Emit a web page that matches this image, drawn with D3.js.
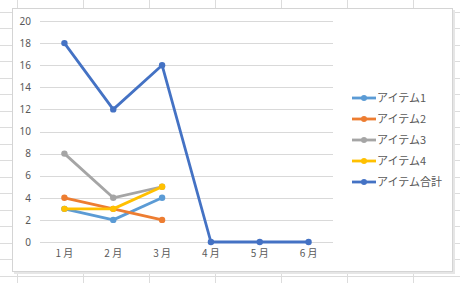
<!DOCTYPE html>
<html>
<head>
  <meta charset="utf-8">
  <script src="https://d3js.org/d3.v7.min.js"></script>
  <style>
    body { margin: 0; background: #fff; }
    svg text { font-family: "Noto Sans CJK JP", "Noto Sans", sans-serif; fill: #595959; }
  </style>
</head>
<body>
  <script>
    const months = ["1月", "2月", "3月", "4月", "5月", "6月"];
    const seriesNames = ["アイテム1", "アイテム2", "アイテム3", "アイテム4", "アイテム合計"];
    const item1 = [3, 2, 4];
    const item2 = [4, 3, 2];
    const item3 = [8, 4, 5];
    const item4 = [3, 3, 5];
    const itemTotal = [18, 12, 16, 0, 0, 0];
    const yTicks = [0, 2, 4, 6, 8, 10, 12, 14, 16, 18, 20];
    const colors = ["#5b9bd5", "#ed7d31", "#a5a5a5", "#ffc000", "#4472c4"];

    const width = 460, height = 283;
    const svg = d3.select("body").append("svg")
      .attr("width", width).attr("height", height);

    // spreadsheet cells behind the chart
    const cells = svg.append("g").attr("stroke", "#dcdcdc").attr("stroke-width", 1);
    for (let x = 17; x < width; x += 66) {
      cells.append("line").attr("x1", x + 0.5).attr("x2", x + 0.5).attr("y1", 0).attr("y2", height);
    }
    for (let y = 11.5; y < height; y += 16.5) {
      cells.append("line").attr("x1", 0).attr("x2", width).attr("y1", Math.round(y) + 0.5).attr("y2", Math.round(y) + 0.5);
    }

    // chart area
    svg.append("rect")
      .attr("x", 14).attr("y", 10).attr("width", 441).attr("height", 264)
      .attr("fill", "#e6e6e6");
    svg.append("rect")
      .attr("x", 12.5).attr("y", 8.5).attr("width", 440).attr("height", 263)
      .attr("fill", "#fff").attr("stroke", "#d4d4d4");

    const x = d3.scaleBand().domain(months).range([40, 333]);
    const y = d3.scaleLinear().domain([0, 20]).range([242, 21]);

    const grid = svg.append("g");
    grid.selectAll("line").data(yTicks).join("line")
      .attr("x1", 40).attr("x2", 333)
      .attr("y1", d => Math.round(y(d)) + 0.5).attr("y2", d => Math.round(y(d)) + 0.5)
      .attr("stroke", "#d9d9d9");

    const yAxis = svg.append("g")
      .attr("transform", "translate(40,0)")
      .call(d3.axisLeft(y).tickValues(yTicks).tickSize(0).tickPadding(9));
    yAxis.select(".domain").remove();
    yAxis.selectAll("text").attr("font-size", 10).style("font-family", "\"Noto Sans\", sans-serif");

    const xAxis = svg.append("g")
      .attr("transform", "translate(0,242)")
      .call(d3.axisBottom(x).tickSize(0).tickPadding(8));
    xAxis.select(".domain").remove();
    xAxis.selectAll("text").attr("font-size", 10)
      .text(d => d.replace("月", " 月"));

    const series = [item1, item2, item3, item4, itemTotal];
    const line = d3.line()
      .x((d, i) => x(months[i]) + x.bandwidth() / 2)
      .y(d => y(d));

    series.forEach((vals, s) => {
      const g = svg.append("g");
      g.append("path").datum(vals)
        .attr("d", line)
        .attr("fill", "none")
        .attr("stroke", colors[s])
        .attr("stroke-width", 2.8)
        .attr("stroke-linejoin", "round");
      g.selectAll("circle").data(vals).join("circle")
        .attr("cx", (d, i) => x(months[i]) + x.bandwidth() / 2)
        .attr("cy", d => y(d))
        .attr("r", 3.2)
        .attr("fill", colors[s]);
    });

    // legend
    const legend = svg.append("g");
    seriesNames.forEach((name, i) => {
      const ly = 98 + i * 21;
      legend.append("line")
        .attr("x1", 352).attr("x2", 376).attr("y1", ly).attr("y2", ly)
        .attr("stroke", colors[i]).attr("stroke-width", 2.8);
      legend.append("circle").attr("cx", 364).attr("cy", ly).attr("r", 3).attr("fill", colors[i]);
      legend.append("text")
        .attr("x", 377).attr("y", ly).attr("dy", "0.35em")
        .attr("font-size", 11)
        .text(name);
    });
  </script>
</body>
</html>
